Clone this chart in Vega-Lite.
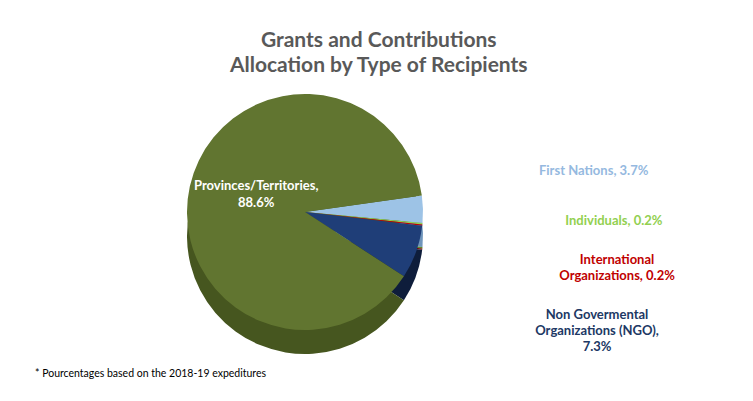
{
  "$schema": "https://vega.github.io/schema/vega-lite/v6.json",
  "padding": {"left": 5, "right": 5, "top": 30, "bottom": 5},
  "background": "white",
  "config": {"view": {"stroke": null}, "font": "Lato"},
  "title": {
    "text": ["Grants and Contributions", "Allocation by Type of Recipients"],
    "font": "Lato", "fontSize": 21, "fontWeight": "bold", "color": "#595959",
    "lineHeight": 25, "anchor": "middle", "dx": 38, "offset": 6
  },
  "data": {
    "values": [
      {"cat": "First Nations", "pct": 3.7, "ord": 1, "label": "First Nations, 3.7%"},
      {"cat": "Individuals", "pct": 0.2, "ord": 2, "label": "Individuals, 0.2%"},
      {"cat": "International Organizations", "pct": 0.2, "ord": 3, "label": "International\nOrganizations,  0.2%"},
      {"cat": "Non Govermental Organizations (NGO)", "pct": 7.3, "ord": 4, "label": "Non Govermental\nOrganizations (NGO),\n7.3%"},
      {"cat": "Provinces/Territories", "pct": 88.6, "ord": 5, "label": "Provinces/Territories,\n88.6%"}
    ]
  },
  "vconcat": [
    {
      "width": 600,
      "height": 260,
      "title": {
        "text": "* Pourcentages based on the 2018-19 expeditures",
        "orient": "bottom", "anchor": "start", "font": "Lato", "fontSize": 10.5,
        "fontWeight": "normal", "color": "#000000", "dx": 30, "offset": 15
      },
      "encoding": {
        "theta": {"field": "pct", "type": "quantitative", "stack": true, "scale": {"range": [1.431, 7.714]}},
        "order": {"field": "ord", "type": "quantitative"}
      },
      "layer": [
        {
          "mark": {"type": "arc", "outerRadius": 118, "yOffset": 24},
          "encoding": {
            "color": {
              "field": "cat", "type": "nominal", "legend": null,
              "scale": {
                "domain": ["First Nations", "Individuals", "International Organizations", "Non Govermental Organizations (NGO)", "Provinces/Territories"],
                "range": ["#6f95bb", "#5d8a2e", "#7a0000", "#0e1d3b", "#46561f"]
              }
            }
          }
        },
        {
          "mark": {"type": "arc", "outerRadius": 118},
          "encoding": {
            "color": {
              "field": "cat", "type": "nominal", "legend": null,
              "scale": {
                "domain": ["First Nations", "Individuals", "International Organizations", "Non Govermental Organizations (NGO)", "Provinces/Territories"],
                "range": ["#9dc3e6", "#92d050", "#c00000", "#1f3e78", "#617530"]
              }
            }
          }
        },
        {
          "mark": {"type": "text", "radius": 50, "fill": "white", "fontSize": 13, "fontWeight": "bold", "align": "center", "dy": -15, "lineBreak": "\n", "lineHeight": 17},
          "encoding": {"text": {"condition": {"test": "datum.cat === 'Provinces/Territories'", "field": "label"}, "value": ""}}
        },
        {
          "mark": {"type": "text", "radius": 150, "fill": "#95b9e0", "fontSize": 13, "fontWeight": "bold", "align": "left", "dx": 84, "dy": -37},
          "encoding": {"text": {"condition": {"test": "datum.cat === 'First Nations'", "field": "label"}, "value": ""}}
        },
        {
          "mark": {"type": "text", "radius": 150, "fill": "#92d050", "fontSize": 13, "fontWeight": "bold", "align": "left", "dx": 111, "dy": -6},
          "encoding": {"text": {"condition": {"test": "datum.cat === 'Individuals'", "field": "label"}, "value": ""}}
        },
        {
          "mark": {"type": "text", "radius": 150, "fill": "#c00000", "fontSize": 13, "fontWeight": "bold", "align": "center", "dx": 163, "dy": 31, "lineBreak": "\n", "lineHeight": 16},
          "encoding": {"text": {"condition": {"test": "datum.cat === 'International Organizations'", "field": "label"}, "value": ""}}
        },
        {
          "mark": {"type": "text", "radius": 150, "fill": "#203864", "fontSize": 13, "fontWeight": "bold", "align": "center", "dx": 151, "dy": 52, "lineBreak": "\n", "lineHeight": 16},
          "encoding": {"text": {"condition": {"test": "datum.cat === 'Non Govermental Organizations (NGO)'", "field": "label"}, "value": ""}}
        }
      ],
      "resolve": {"scale": {"color": "independent"}}
    }
  ]
}
